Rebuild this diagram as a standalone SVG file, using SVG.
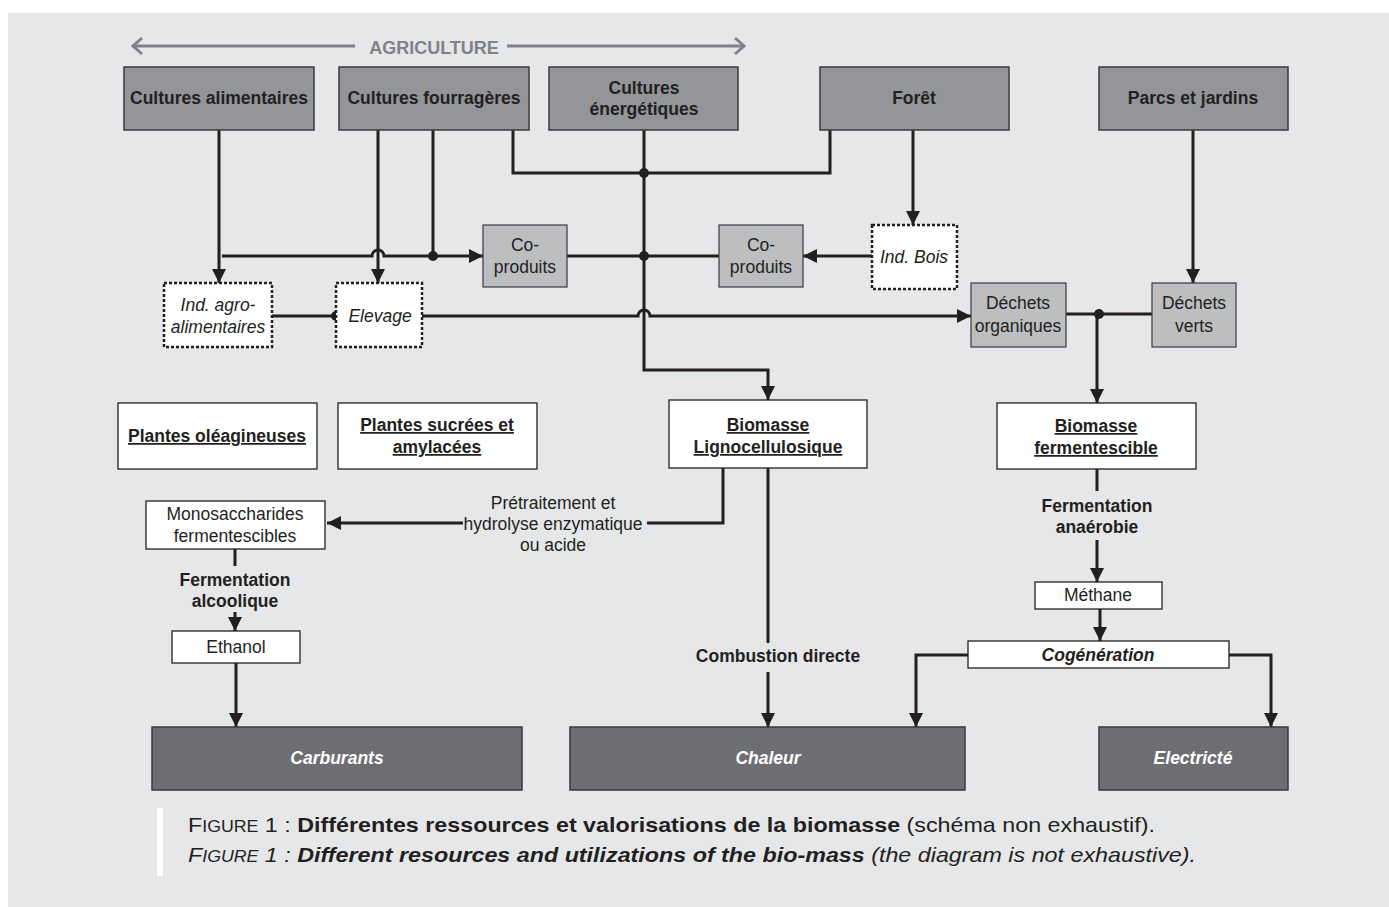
<svg xmlns="http://www.w3.org/2000/svg" width="1389" height="907" viewBox="0 0 1389 907">
<defs>
<marker id="ah" markerUnits="userSpaceOnUse" markerWidth="16" markerHeight="14" refX="14" refY="7" orient="auto">
<path d="M0,0 L14,7 L0,14 z" fill="#231f20"/>
</marker>
<style>
.bg{fill:#e6e7e8}
.top{fill:#939598;stroke:#3a3a3c;stroke-width:1.5}
.mid{fill:#bcbec0;stroke:#3a3a3c;stroke-width:1.2}
.dash{fill:#ffffff;stroke:#231f20;stroke-width:2.5;stroke-dasharray:3,2}
.wb{fill:#ffffff;stroke:#231f20;stroke-width:1.3}
.dk{fill:#6d6e71;stroke:#3a3a3c;stroke-width:1.5}
text{font-family:"Liberation Sans",Arial,sans-serif;fill:#231f20;text-anchor:middle}
.b{font-weight:bold;font-size:17.5px}
.r{font-size:17.5px}
.i{font-style:italic;font-size:17.5px}
.u{text-decoration:underline}
.wt{fill:#ffffff;font-weight:bold;font-style:italic;font-size:17.5px}
.ln{fill:none;stroke:#231f20;stroke-width:3}
.ar{fill:none;stroke:#231f20;stroke-width:3;marker-end:url(#ah)}
.dot{fill:#231f20}
.agr{fill:none;stroke:#808285;stroke-width:3}
</style>
</defs>
<rect class="bg" x="8" y="13" width="1381" height="894"/>

<!-- Agriculture banner -->
<g id="agriculture">
<path class="agr" d="M132,46 H355 M507,46 H743"/>
<path class="agr" d="M142,38 L133,46 L142,54 M735,38 L744,46 L735,54"/>
<text x="434" y="54" style="font-weight:bold;font-size:18px;fill:#808285">AGRICULTURE</text>
</g>

<!-- connectors -->
<g id="connectors">
<path class="ar" d="M219,130 V283"/>
<path class="ar" d="M222,256 H372 A6,6 0 0 1 384,256 H483"/>
<path class="ar" d="M378,130 V283"/>
<path class="ln" d="M433,130 V256"/>
<path class="ln" d="M513,130 V173 H830 V130"/>
<path class="ar" d="M644,130 V370 H768 V400"/>
<path class="ln" d="M567,256 H719"/>
<path class="ar" d="M872,256 H803"/>
<path class="ar" d="M913,130 V225"/>
<path class="ln" d="M272,316 H336"/>
<path class="ar" d="M422,316 H638 A6,6 0 0 1 650,316 H971"/>
<path class="ln" d="M1066,314 H1152"/>
<path class="ar" d="M1097,314 V403"/>
<path class="ar" d="M1193,130 V283"/>
<path class="ln" d="M723,468 V523 H647"/>
<path class="ar" d="M463,523 H327"/>
<path class="ln" d="M768,468 V643"/>
<path class="ar" d="M768,672 V727"/>
<path class="ln" d="M235,549 V566"/>
<path class="ar" d="M235,612 V631"/>
<path class="ar" d="M236,663 V727"/>
<path class="ln" d="M1097,469 V491"/>
<path class="ar" d="M1097,540 V582"/>
<path class="ar" d="M1100,609 V641"/>
<path class="ar" d="M968,655 H916 V727"/>
<path class="ar" d="M1229,655 H1271 V727"/>
<circle class="dot" cx="433" cy="256" r="5"/>
<circle class="dot" cx="644" cy="173" r="5"/>
<circle class="dot" cx="644" cy="256" r="5"/>
<circle class="dot" cx="336" cy="316" r="5"/>
<circle class="dot" cx="1099" cy="314" r="5"/>
<text class="r" x="553" y="509">Prétraitement et</text>
<text class="r" x="553" y="530">hydrolyse enzymatique</text>
<text class="r" x="553" y="551">ou acide</text>
<text class="b" x="778" y="662">Combustion directe</text>
<text class="b" x="235" y="586">Fermentation</text>
<text class="b" x="235" y="607">alcoolique</text>
<text class="b" x="1097" y="512">Fermentation</text>
<text class="b" x="1097" y="533">anaérobie</text>
</g>

<!-- top sources -->
<g id="cultures-alimentaires"><rect class="top" x="124" y="67" width="190" height="63"/><text class="b" x="219" y="104">Cultures alimentaires</text></g>
<g id="cultures-fourrageres"><rect class="top" x="339" y="67" width="190" height="63"/><text class="b" x="434" y="104">Cultures fourragères</text></g>
<g id="cultures-energetiques"><rect class="top" x="549" y="67" width="189" height="63"/><text class="b" x="644" y="94">Cultures</text><text class="b" x="644" y="115">énergétiques</text></g>
<g id="foret"><rect class="top" x="820" y="67" width="189" height="63"/><text class="b" x="914" y="104">Forêt</text></g>
<g id="parcs-jardins"><rect class="top" x="1099" y="67" width="189" height="63"/><text class="b" x="1193" y="104">Parcs et jardins</text></g>

<!-- intermediates -->
<g id="coproduits-1"><rect class="mid" x="483" y="225" width="84" height="62"/><text class="r" x="525" y="251">Co-</text><text class="r" x="525" y="273">produits</text></g>
<g id="coproduits-2"><rect class="mid" x="719" y="225" width="84" height="62"/><text class="r" x="761" y="251">Co-</text><text class="r" x="761" y="273">produits</text></g>
<g id="ind-bois"><rect class="dash" x="872" y="225" width="85" height="64"/><text class="i" x="914" y="263">Ind. Bois</text></g>
<g id="ind-agro"><rect class="dash" x="164" y="283" width="108" height="64"/><text class="i" x="218" y="311">Ind. agro-</text><text class="i" x="218" y="333">alimentaires</text></g>
<g id="elevage"><rect class="dash" x="336" y="283" width="86" height="64"/><text class="i" x="380" y="322">Elevage</text></g>
<g id="dechets-organiques"><rect class="mid" x="971" y="283" width="95" height="64"/><text class="r" x="1018" y="309">Déchets</text><text class="r" x="1018" y="332">organiques</text></g>
<g id="dechets-verts"><rect class="mid" x="1152" y="283" width="84" height="64"/><text class="r" x="1194" y="309">Déchets</text><text class="r" x="1194" y="332">verts</text></g>

<!-- biomass categories -->
<g id="plantes-oleagineuses"><rect class="wb" x="118" y="403" width="199" height="66"/><text class="b u" x="217" y="442">Plantes oléagineuses</text></g>
<g id="plantes-sucrees"><rect class="wb" x="338" y="403" width="199" height="66"/><text class="b u" x="437" y="431">Plantes sucrées et</text><text class="b u" x="437" y="453">amylacées</text></g>
<g id="biomasse-ligno"><rect class="wb" x="669" y="400" width="198" height="68"/><text class="b u" x="768" y="431">Biomasse</text><text class="b u" x="768" y="453">Lignocellulosique</text></g>
<g id="biomasse-ferm"><rect class="wb" x="997" y="403" width="199" height="66"/><text class="b u" x="1096" y="432">Biomasse</text><text class="b u" x="1096" y="454">fermentescible</text></g>

<!-- products -->
<g id="monosaccharides"><rect class="wb" x="146" y="501" width="179" height="48"/><text class="r" x="235" y="520">Monosaccharides</text><text class="r" x="235" y="542">fermentescibles</text></g>
<g id="ethanol"><rect class="wb" x="172" y="631" width="128" height="32"/><text class="r" x="236" y="653">Ethanol</text></g>
<g id="methane"><rect class="wb" x="1035" y="582" width="127" height="27"/><text class="r" x="1098" y="601">Méthane</text></g>
<g id="cogeneration"><rect class="wb" x="968" y="641" width="261" height="27"/><text class="b" x="1098" y="661" style="font-style:italic">Cogénération</text></g>

<!-- outputs -->
<g id="carburants"><rect class="dk" x="152" y="727" width="370" height="63"/><text class="wt" x="337" y="764">Carburants</text></g>
<g id="chaleur"><rect class="dk" x="570" y="727" width="395" height="63"/><text class="wt" x="768" y="764">Chaleur</text></g>
<g id="electricite"><rect class="dk" x="1099" y="727" width="189" height="63"/><text class="wt" x="1193" y="764">Electricté</text></g>

<!-- caption -->
<g id="caption">
<rect x="157" y="808" width="6" height="68" fill="#ffffff"/>
<text x="188" y="832" textLength="967" lengthAdjust="spacingAndGlyphs" style="text-anchor:start;font-size:21px">F<tspan style="font-size:16px">IGURE</tspan> 1 : <tspan style="font-weight:bold">Différentes ressources et valorisations de la biomasse</tspan> (schéma non exhaustif).</text>
<text x="188" y="862" textLength="1008" lengthAdjust="spacingAndGlyphs" style="text-anchor:start;font-size:21px;font-style:italic">F<tspan style="font-size:16px">IGURE</tspan> 1 : <tspan style="font-weight:bold">Different resources and utilizations of the bio-mass</tspan> (the diagram is not exhaustive).</text>
</g>
</svg>
